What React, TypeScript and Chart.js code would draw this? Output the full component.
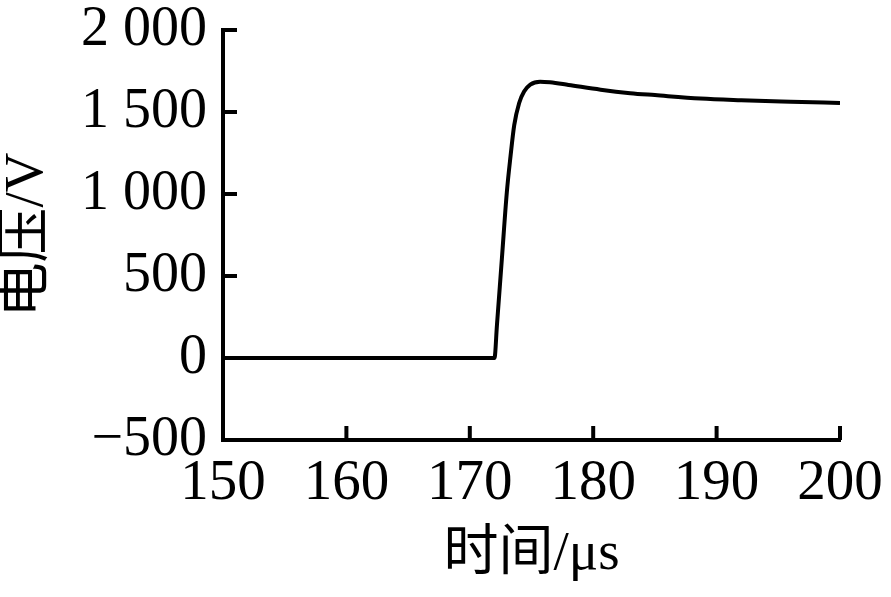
import React, { useEffect, useRef } from "react";
import { Chart, registerables } from "chart.js";

Chart.register(...registerables);

// Time (µs) and voltage (V)
const timeUs = [150, 160, 170, 172.0, 172.2, 172.6, 173.0, 173.3, 173.6, 174.0, 174.4, 174.9, 175.7, 176.5, 178, 180.6, 183, 185, 188.7, 192, 196, 200];
const voltage = [0, 0, 0, 0, 200, 606, 1010, 1230, 1420, 1555, 1625, 1667, 1685, 1681, 1665, 1636, 1615, 1603, 1582, 1572, 1563, 1555];

const xTicks = [150, 160, 170, 180, 190, 200];
const xTickLabels = ["150", "160", "170", "180", "190", "200"];
const yTicks = [-500, 0, 500, 1000, 1500, 2000];
const yTickLabels = ["\u2212500", "0", "500", "1 000", "1 500", "2 000"];

const xTitle = "时间/μs";
const yTitle = "电压/V";

const FONT = "'Liberation Serif', 'Times New Roman', 'Noto Sans CJK SC', serif";

const inwardTicks = {
  id: "inwardTicks",
  afterDraw(chart: any) {
    const ctx = chart.ctx;
    const area = chart.chartArea;
    const xs = chart.scales.x;
    const ys = chart.scales.y;
    const len = 14;
    ctx.save();
    ctx.strokeStyle = "#000";
    ctx.lineWidth = 4;
    ctx.lineCap = "butt";
    xTicks.forEach((v) => {
      const px = xs.getPixelForValue(v);
      ctx.beginPath();
      ctx.moveTo(px, area.bottom);
      ctx.lineTo(px, area.bottom - len);
      ctx.stroke();
    });
    yTicks.forEach((v) => {
      const py = ys.getPixelForValue(v);
      ctx.beginPath();
      ctx.moveTo(area.left, py);
      ctx.lineTo(area.left + len, py);
      ctx.stroke();
    });
    ctx.restore();
  },
};

export default function App() {
  const ref = useRef<HTMLCanvasElement | null>(null);

  useEffect(() => {
    if (!ref.current) return;
    const chart = new Chart(ref.current, {
      type: "line",
      data: {
        datasets: [
          {
            data: timeUs.map((t, i) => ({ x: t, y: voltage[i] })),
            borderColor: "#000",
            borderWidth: 4,
            pointRadius: 0,
            fill: false,
            cubicInterpolationMode: "monotone",
          },
        ],
      },
      options: {
        animation: false,
        responsive: false,
        layout: { padding: { left: 0, top: 30, right: 51, bottom: 0 } },
        plugins: { legend: { display: false }, tooltip: { enabled: false } },
        scales: {
          x: {
            type: "linear",
            min: 150,
            max: 200,
            afterBuildTicks: (scale: any) => {
              scale.ticks = xTicks.map((v) => ({ value: v }));
            },
            afterFit: (scale: any) => {
              scale.height = 157;
              scale.paddingLeft = 0;
              scale.paddingRight = 0;
            },
            ticks: {
              callback: (v: any) => xTickLabels[xTicks.indexOf(Number(v))] ?? "",
              font: { family: FONT, size: 57, lineHeight: 1 },
              color: "#000",
              padding: 16,
              maxRotation: 0,
              autoSkip: false,
            },
            grid: { display: true, drawOnChartArea: false, drawTicks: false },
            border: { display: true, color: "#000", width: 4 },
            title: {
              display: true,
              text: xTitle,
              color: "#000",
              font: { family: FONT, size: 55, lineHeight: 1 },
              padding: { top: 0, bottom: 15 },
            },
          },
          y: {
            type: "linear",
            min: -500,
            max: 2000,
            afterBuildTicks: (scale: any) => {
              scale.ticks = yTicks.map((v) => ({ value: v }));
            },
            afterFit: (scale: any) => {
              scale.width = 223;
              scale.paddingTop = 0;
              scale.paddingBottom = 0;
            },
            ticks: {
              callback: (v: any) => yTickLabels[yTicks.indexOf(Number(v))] ?? "",
              font: { family: FONT, size: 56, lineHeight: 1 },
              color: "#000",
              padding: 16,
              autoSkip: false,
            },
            grid: { display: true, drawOnChartArea: false, drawTicks: false },
            border: { display: true, color: "#000", width: 4 },
            title: {
              display: true,
              text: yTitle,
              color: "#000",
              font: { family: FONT, size: 55, lineHeight: 1 },
              padding: { top: 0, bottom: 0 },
            },
          },
        },
      },
      plugins: [inwardTicks],
    } as any);
    return () => chart.destroy();
  }, []);

  return (
    <div style={{ position: "fixed", left: 0, top: 0, width: 891, height: 597, background: "#fff" }}>
      <canvas ref={ref} width={891} height={597} style={{ display: "block" }} />
    </div>
  );
}
